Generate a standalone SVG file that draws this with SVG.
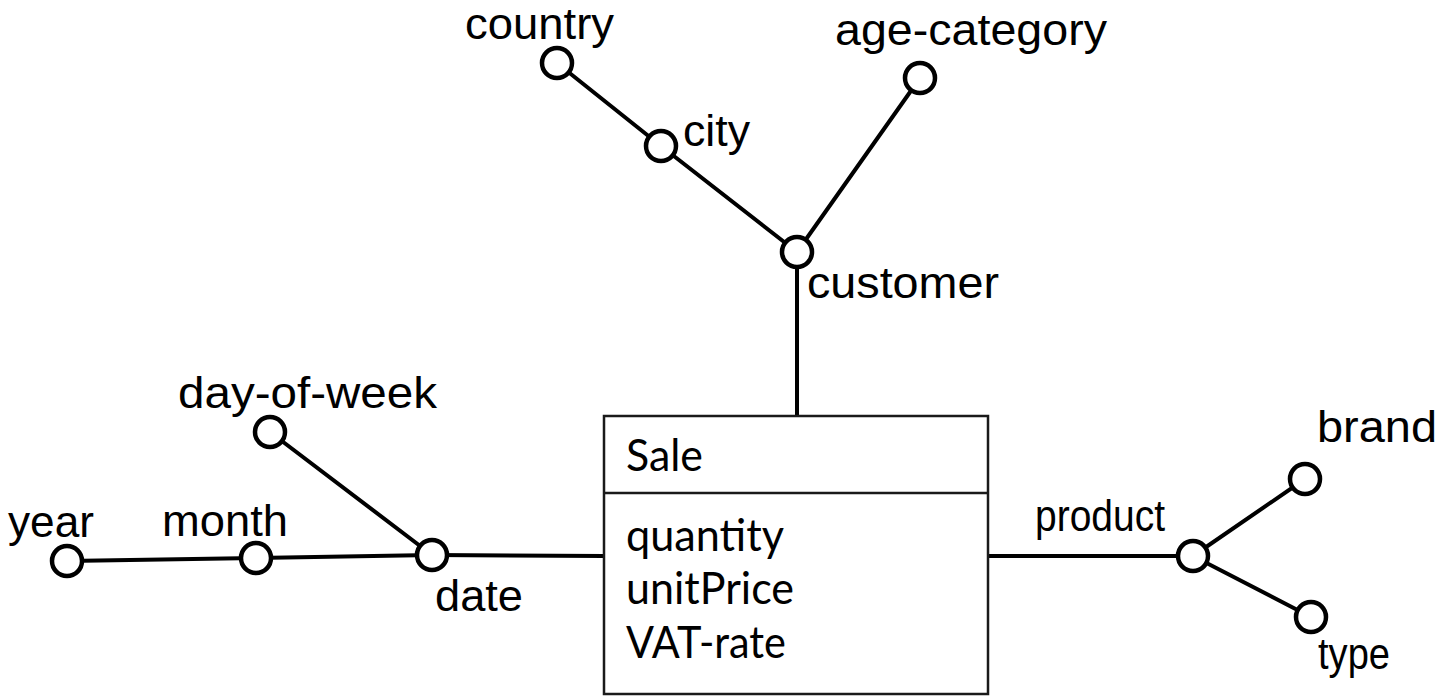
<svg xmlns="http://www.w3.org/2000/svg" width="1443" height="696" viewBox="0 0 1443 696">
  <style>
    .edge { stroke: #000; stroke-width: 4; fill: none; stroke-linecap: round; }
    .level { fill: #fff; stroke: #000; stroke-width: 4.5; }
    .label { font-family: "Liberation Sans", Arial, sans-serif; font-size: 44px; fill: #000; }
    .fact { fill: #fff; stroke: #1a1a1a; stroke-width: 2.5; }
    .attr { font-family: Lato, "Open Sans", sans-serif; font-size: 44px; fill: #000; }
  </style>

  <!-- connectors between dimension levels and the fact -->
  <g id="connectors">
    <line class="edge" x1="557" y1="63" x2="661" y2="146"/>
    <line class="edge" x1="661" y1="146" x2="797" y2="252"/>
    <line class="edge" x1="920" y1="78" x2="797" y2="252"/>
    <line class="edge" x1="797" y1="252" x2="797" y2="416"/>
    <line class="edge" x1="270" y1="432" x2="432" y2="555"/>
    <line class="edge" x1="67" y1="561" x2="256" y2="558"/>
    <line class="edge" x1="256" y1="558" x2="432" y2="555"/>
    <line class="edge" x1="432" y1="555" x2="604" y2="556"/>
    <line class="edge" x1="988" y1="556" x2="1193" y2="556"/>
    <line class="edge" x1="1193" y1="556" x2="1305" y2="479"/>
    <line class="edge" x1="1193" y1="556" x2="1311" y2="617"/>
  </g>

  <!-- fact: Sale -->
  <g id="sale">
    <rect class="fact" x="604" y="416" width="384" height="278"/>
    <line class="fact" x1="604" y1="493" x2="988" y2="493"/>
    <text class="attr" x="626" y="471" textLength="77" lengthAdjust="spacingAndGlyphs">Sale</text>
    <text class="attr" x="626" y="551" textLength="158" lengthAdjust="spacingAndGlyphs">quantity</text>
    <text class="attr" x="626" y="604" textLength="168" lengthAdjust="spacingAndGlyphs">unitPrice</text>
    <text class="attr" x="626" y="658" textLength="160" lengthAdjust="spacingAndGlyphs">VAT-rate</text>
  </g>

  <!-- customer hierarchy -->
  <g id="country">
    <circle class="level" cx="557" cy="63" r="15"/>
    <text class="label" x="465" y="39" textLength="149" lengthAdjust="spacingAndGlyphs">country</text>
  </g>
  <g id="city">
    <circle class="level" cx="661" cy="146" r="15"/>
    <text class="label" x="683" y="146" textLength="67" lengthAdjust="spacingAndGlyphs">city</text>
  </g>
  <g id="age-category">
    <circle class="level" cx="920" cy="78" r="15"/>
    <text class="label" x="835" y="45" textLength="272" lengthAdjust="spacingAndGlyphs">age-category</text>
  </g>
  <g id="customer">
    <circle class="level" cx="797" cy="252" r="15"/>
    <text class="label" x="807" y="298" textLength="192" lengthAdjust="spacingAndGlyphs">customer</text>
  </g>

  <!-- date hierarchy -->
  <g id="day-of-week">
    <circle class="level" cx="270" cy="432" r="15"/>
    <text class="label" x="178" y="408" textLength="259" lengthAdjust="spacingAndGlyphs">day-of-week</text>
  </g>
  <g id="year">
    <circle class="level" cx="67" cy="561" r="15"/>
    <text class="label" x="8" y="537" textLength="86" lengthAdjust="spacingAndGlyphs">year</text>
  </g>
  <g id="month">
    <circle class="level" cx="256" cy="558" r="15"/>
    <text class="label" x="162" y="536" textLength="126" lengthAdjust="spacingAndGlyphs">month</text>
  </g>
  <g id="date">
    <circle class="level" cx="432" cy="555" r="15"/>
    <text class="label" x="435" y="611" textLength="88" lengthAdjust="spacingAndGlyphs">date</text>
  </g>

  <!-- product hierarchy -->
  <g id="product">
    <circle class="level" cx="1193" cy="556" r="15"/>
    <text class="label" x="1035" y="531" textLength="130" lengthAdjust="spacingAndGlyphs">product</text>
  </g>
  <g id="brand">
    <circle class="level" cx="1305" cy="479" r="15"/>
    <text class="label" x="1317" y="442" textLength="120" lengthAdjust="spacingAndGlyphs">brand</text>
  </g>
  <g id="type">
    <circle class="level" cx="1311" cy="617" r="15"/>
    <text class="label" x="1318" y="669" textLength="72" lengthAdjust="spacingAndGlyphs">type</text>
  </g>
</svg>
